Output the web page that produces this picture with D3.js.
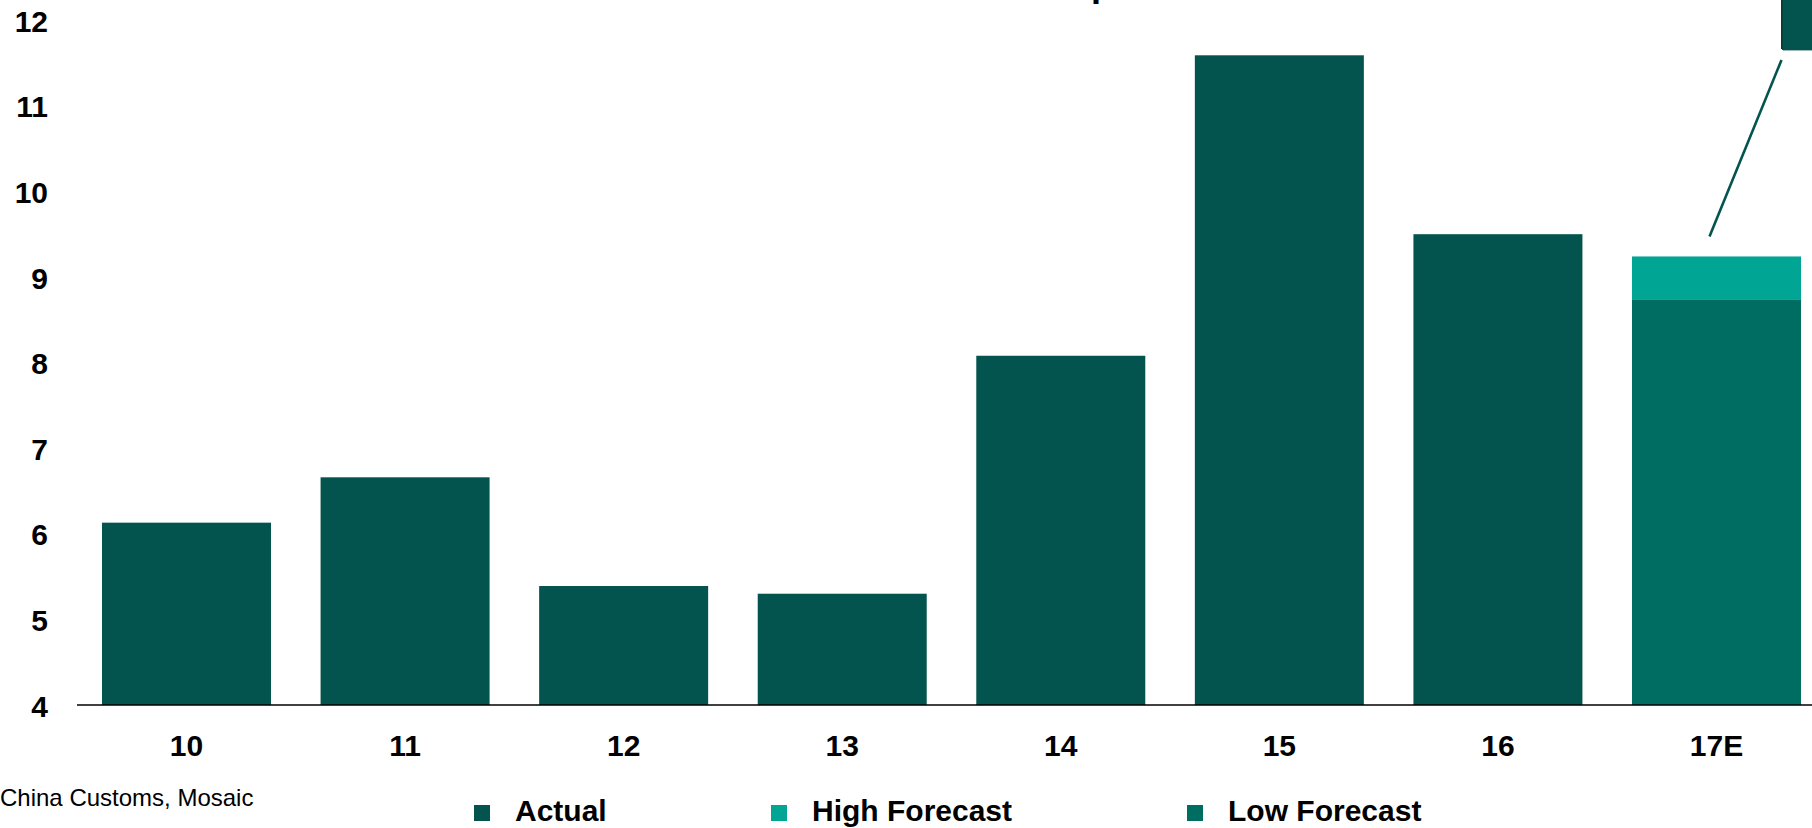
<!DOCTYPE html>
<html>
<head>
<meta charset="utf-8">
<script src="https://cdn.jsdelivr.net/npm/d3@7"></script>
<style>
  html, body { margin: 0; padding: 0; background: #fff; overflow: hidden; }
  svg { display: block; font-family: "Liberation Sans", Arial, sans-serif; }
</style>
</head>
<body>
<svg id="chart" width="1812" height="828"></svg>
<script>
// ---- data ----
const categories = ["10", "11", "12", "13", "14", "15", "16", "17E"];
const actual = [6.13, 6.66, 5.39, 5.30, 8.08, 11.59, 9.50, null];
const lowForecast = [null, null, null, null, null, null, null, 8.74];
const highForecast = [null, null, null, null, null, null, null, 9.24];
const yTicks = [4, 5, 6, 7, 8, 9, 10, 11, 12];
const legendLabels = ["Actual", "High Forecast", "Low Forecast"];
const sourceText = "China Customs, Mosaic";
const titleText = "China Potash Imports";

const colors = { actual: "#03544E", high: "#00A594", low: "#006D63" };

const svg = d3.select("#chart");

const x = d3.scaleBand()
  .domain(categories)
  .range([77, 1826])
  .paddingInner(0.2268)
  .paddingOuter(0.1144);

const y = d3.scaleLinear().domain([4, 12]).range([705, 20.2]);

// title (mostly above the visible area; only a descender shows)
const title = svg.append("text")
  .attr("font-size", 36).attr("font-weight", "bold").attr("fill", "#000")
  .attr("y", -4.5).text(titleText);
{
  const tmp = svg.append("text").attr("font-size", 36).attr("font-weight", "bold").text("China Potash Im");
  const w = tmp.node().getComputedTextLength();
  tmp.remove();
  title.attr("x", 1091 - w);
}

// actual bars
svg.append("g").selectAll("rect")
  .data(categories.map((c, i) => ({ c, v: actual[i] })).filter(d => d.v != null))
  .join("rect")
  .attr("x", d => x(d.c))
  .attr("width", x.bandwidth())
  .attr("y", d => y(d.v))
  .attr("height", d => y(4) - y(d.v))
  .attr("fill", colors.actual);

// forecast bars (low stacked under high)
const fc = categories.map((c, i) => ({ c, lo: lowForecast[i], hi: highForecast[i] })).filter(d => d.lo != null);
svg.append("g").selectAll("rect")
  .data(fc).join("rect")
  .attr("x", d => x(d.c)).attr("width", x.bandwidth())
  .attr("y", d => y(d.lo)).attr("height", d => y(4) - y(d.lo))
  .attr("fill", colors.low);
svg.append("g").selectAll("rect")
  .data(fc).join("rect")
  .attr("x", d => x(d.c)).attr("width", x.bandwidth())
  .attr("y", d => y(d.hi)).attr("height", d => y(d.lo) - y(d.hi))
  .attr("fill", colors.high);

// x axis line
svg.append("line")
  .attr("x1", 77).attr("x2", 1812)
  .attr("y1", y(4)).attr("y2", y(4))
  .attr("stroke", "#000").attr("stroke-width", 1.5);

// y tick labels
svg.append("g").selectAll("text")
  .data(yTicks).join("text")
  .attr("x", 48).attr("y", d => y(d) + 11.5)
  .attr("text-anchor", "end")
  .attr("font-size", 30).attr("font-weight", "bold").attr("fill", "#000")
  .text(d => d);

// x tick labels
svg.append("g").selectAll("text")
  .data(categories).join("text")
  .attr("x", d => x(d) + x.bandwidth() / 2).attr("y", 756)
  .attr("text-anchor", "middle")
  .attr("font-size", 30).attr("font-weight", "bold").attr("fill", "#000")
  .text(d => d);

// callout: leader line and box at top right
const last = fc[0];
const lx = x(last.c) + x.bandwidth() / 2 - 7;
svg.append("line")
  .attr("x1", lx).attr("y1", y(last.hi) - 20)
  .attr("x2", 1781.5).attr("y2", 60)
  .attr("stroke", colors.actual).attr("stroke-width", 2.6);
svg.append("rect")
  .attr("x", 1782).attr("y", -10).attr("width", 40).attr("height", 60)
  .attr("fill", colors.actual);
svg.append("line")
  .attr("x1", 1782).attr("x2", 1782).attr("y1", 0).attr("y2", 49)
  .attr("stroke", "#023f3a").attr("stroke-width", 2);
svg.append("line")
  .attr("x1", 1783).attr("x2", 1812).attr("y1", 50.5).attr("y2", 50.5)
  .attr("stroke", "#9fb9b6").attr("stroke-width", 1);

// source
svg.append("text")
  .attr("x", 0).attr("y", 806)
  .attr("font-size", 24).attr("fill", "#000")
  .text(sourceText);

// legend
const legendColors = [colors.actual, colors.high, colors.low];
const legendX = [474, 771, 1187];
const lg = svg.append("g").selectAll("g")
  .data(legendLabels).join("g")
  .attr("transform", (d, i) => `translate(${legendX[i]},0)`);
lg.append("rect")
  .attr("x", 0).attr("y", 805).attr("width", 16).attr("height", 16)
  .attr("fill", (d, i) => legendColors[i]);
lg.append("text")
  .attr("x", 41).attr("y", 821)
  .attr("font-size", 30).attr("font-weight", "bold").attr("fill", "#000")
  .text(d => d);
</script>
</body>
</html>
